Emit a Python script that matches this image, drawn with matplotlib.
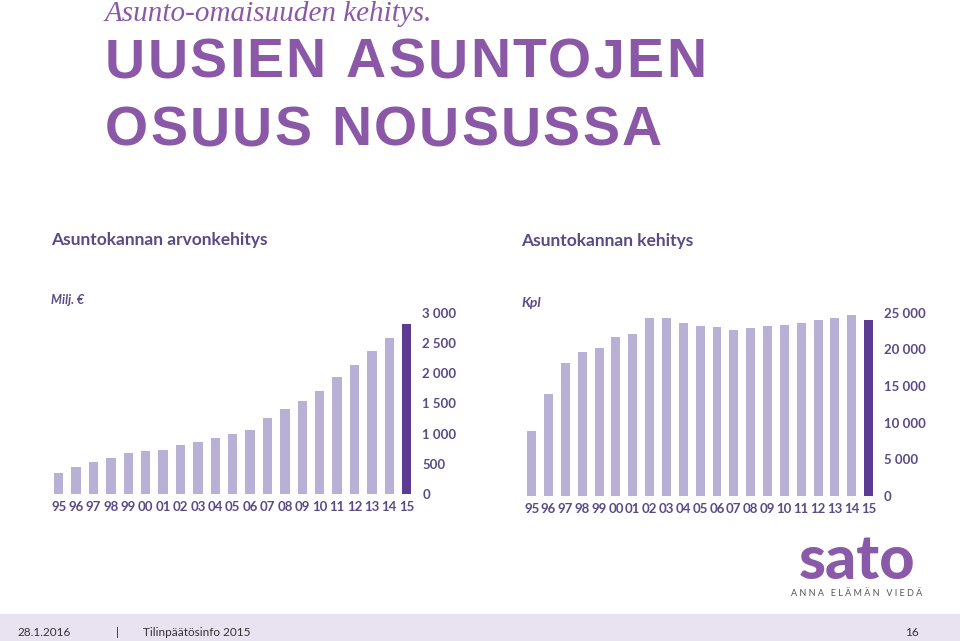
import matplotlib
matplotlib.use("Agg")
import matplotlib.pyplot as plt
from matplotlib.patches import Rectangle

# data
years = ["95", "96", "97", "98", "99", "00", "01", "02", "03", "04", "05",
         "06", "07", "08", "09", "10", "11", "12", "13", "14", "15"]
value_meur = [340, 440, 535, 590, 675, 710, 725, 820, 857, 925, 990,
              1065, 1255, 1405, 1535, 1700, 1945, 2130, 2365, 2585, 2815]
count_kpl = [8800, 13950, 18100, 19650, 20250, 21650, 22050, 24250, 24250, 23550, 23150,
             23000, 22700, 22850, 23150, 23300, 23650, 23950, 24250, 24650, 23950]
left_ticks = [0, 500, 1000, 1500, 2000, 2500, 3000]
right_ticks = [0, 5000, 10000, 15000, 20000, 25000]

LIGHT = "#b9b0d5"
DARK = "#5c3c92"
TXT = "#5a4a86"
TITLE = "#8a58a6"

plt.rcParams['font.family'] = ['Lato', 'DejaVu Sans']

fig = plt.figure(figsize=(9.6, 6.41), dpi=100)
W, H = 960, 641


def px(x, y):
    return x / W, 1 - y / H


def spaced(text, x, y, size, color, track, space, weight="bold", family="DejaVu Sans"):
    # draw text letter by letter with extra tracking (pixels)
    fig.canvas.draw()
    r = fig.canvas.get_renderer()
    cx = x
    for ch in text:
        if ch == " ":
            cx += space
            continue
        t = fig.text(*px(cx, y), ch, fontsize=size, fontweight=weight,
                     family=family, color=color, va="center")
        cx += t.get_window_extent(r).width + track


def bars(ax, vals, ticks, top, fmt):
    xs = range(len(vals))
    cols = [LIGHT] * (len(vals) - 1) + [DARK]
    ax.bar(xs, vals, width=0.53, color=cols)
    ax.set_xlim(-0.5, len(vals) - 0.5)
    ax.set_ylim(0, top)
    ax.set_xticks(list(xs))
    ax.set_xticklabels(years, fontsize=9.5, fontweight="bold", color=TXT)
    ax.yaxis.tick_right()
    ax.set_yticks(ticks)
    ax.set_yticklabels([fmt(v) for v in ticks], fontsize=9.5, fontweight="bold", color=TXT)
    ax.tick_params(length=0, axis="x", pad=5)
    ax.tick_params(length=0, axis="y", pad=5)
    for s in ax.spines.values():
        s.set_visible(False)


def thou(v):
    return "{:,}".format(v).replace(",", " ")


ax1 = fig.add_axes([50 / W, 147 / H, 365.4 / W, 181 / H])
bars(ax1, value_meur, left_ticks, 3000, thou)
ax2 = fig.add_axes([523.3 / W, 145 / H, 353.7 / W, 183.3 / H])
bars(ax2, count_kpl, right_ticks, 25000, thou)

# headings
fig.text(*px(105, 14), "Asunto-omaisuuden kehitys.", fontsize=21, style="italic",
         family="Liberation Serif", color=TITLE, va="center")
spaced("UUSIEN ASUNTOJEN", 105, 63, 40, TITLE, 2.2, 18, family="Liberation Sans")
spaced("OSUUS NOUSUSSA", 105, 131, 40, TITLE, 2.2, 18, family="Liberation Sans")

fig.text(*px(51, 240), "Asuntokannan arvonkehitys", fontsize=12.5, fontweight="bold",
         color=TXT, va="center")
fig.text(*px(521, 241), "Asuntokannan kehitys", fontsize=12.5, fontweight="bold",
         color=TXT, va="center")
fig.text(*px(51, 300), "Milj. €", fontsize=9, fontweight="bold", style="italic",
         color=TXT, va="center")
fig.text(*px(521, 303), "Kpl", fontsize=10, fontweight="bold", style="italic",
         color=TXT, va="center")

# logo
fig.text(*px(857, 579), "sato", fontsize=44, fontweight="black", color="#8a5aa8",
         ha="center", va="baseline", family="Lato")
fig.text(*px(857, 594), "A N N A   E L Ä M Ä N   V I E D Ä", fontsize=6.5,
         color="#555555", ha="center", va="center")

# footer band
fig.patches.append(Rectangle((0, 0), 1, 27 / H, transform=fig.transFigure,
                             facecolor="#e9e2f0", edgecolor="none"))
fig.text(*px(17, 633), "28.1.2016", fontsize=8.5, color="#333333", va="center")
fig.text(*px(116, 633), "|", fontsize=8.5, color="#333333", va="center")
fig.text(*px(143, 633), "Tilinpäätösinfo 2015", fontsize=8.5, color="#333333", va="center")
fig.text(*px(905, 633), "16", fontsize=8.5, color="#333333", va="center")

fig.savefig("out.png", dpi=100)
